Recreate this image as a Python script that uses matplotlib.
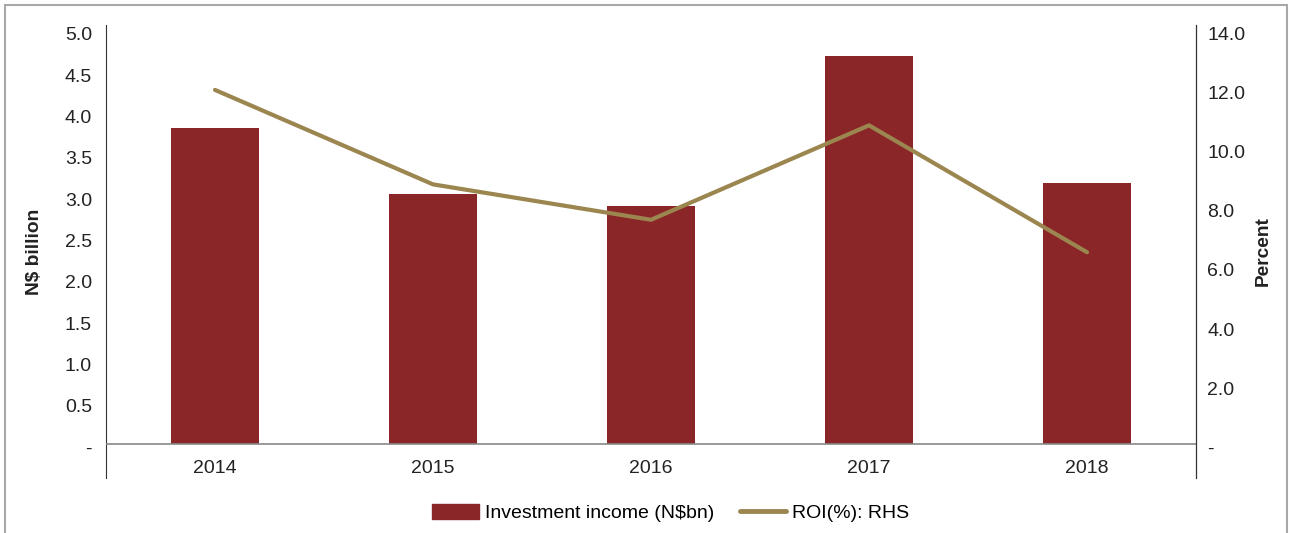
import matplotlib.pyplot as plt
from matplotlib.patches import Rectangle
from matplotlib.lines import Line2D
from matplotlib.transforms import ScaledTranslation

plt.rcParams['font.family'] = ['Liberation Sans', 'DejaVu Sans']

years = ["2014", "2015", "2016", "2017", "2018"]
investment_income = [3.82, 3.03, 2.88, 4.70, 3.16]   # N$ billion
roi = [12.0, 8.8, 7.6, 10.8, 6.5]                    # percent

bar_color = "#8a2528"
line_color = "#9c8650"
text_color = "#222222"
fs = 14

fig = plt.figure(figsize=(12.9, 5.33), dpi=100)
ax = fig.add_axes([106 / 1290, 1 - 478 / 533, 1090 / 1290, 453 / 533])
x = range(len(years))

ax.bar(x, investment_income, width=0.4, color=bar_color, zorder=2)
ax.axhline(0, color="#888888", lw=1.2, zorder=3)
ax.set_xlim(-0.5, 4.5)
ax.set_ylim(-0.41, 5.07)
ax.set_yticks([i * 0.5 for i in range(11)])
ax.set_yticklabels(["-"] + [f"{i * 0.5:.1f}" for i in range(1, 11)])
ax.set_xticks(list(x))
ax.set_xticklabels(years)
ax.tick_params(axis="both", length=0, labelsize=fs, colors=text_color)
ax.tick_params(axis="y", pad=10)
ax.tick_params(axis="x", pad=-13)
ax.set_ylabel("N$ billion", fontsize=13.8, fontweight="bold", color=text_color, labelpad=16)
for side in ["top", "bottom"]:
    ax.spines[side].set_visible(False)
ax.spines["left"].set_color("#333333")

ax2 = ax.twinx()
ax2.plot(list(x), roi, color=line_color, lw=3, solid_capstyle="round", zorder=4)
ax2.set_ylim(-1.15, 14.2)
ax2.set_yticks([i * 2.0 for i in range(8)])
ax2.set_yticklabels(["-"] + [f"{i * 2.0:.1f}" for i in range(1, 8)])
ax2.tick_params(axis="y", length=0, labelsize=fs, colors=text_color, pad=8)
ax2.set_ylabel("Percent", fontsize=13.8, fontweight="bold", color=text_color, labelpad=7)
for side in ["top", "bottom", "left"]:
    ax2.spines[side].set_visible(False)
ax2.spines["right"].set_color("#333333")

# nudge the value labels slightly below their gridline positions
shift = ScaledTranslation(0, -3 / 100, fig.dpi_scale_trans)
for lbl in ax.get_yticklabels() + ax2.get_yticklabels():
    lbl.set_transform(lbl.get_transform() + shift)

handles = [
    Rectangle((0, 0), 1, 1, color=bar_color),
    Line2D([0], [0], color=line_color, lw=3.5, solid_capstyle="round"),
]
fig.legend(handles, ["Investment income (N$bn)", "ROI(%): RHS"],
           loc="center", bbox_to_anchor=(0.52, 1 - 513 / 533), ncol=2,
           frameon=False, fontsize=fs, handlelength=2.4, handleheight=0.85,
           columnspacing=1.3, handletextpad=0.3)

# thin gray frame around the whole chart
fig.patches.append(Rectangle((5 / 1290, -0.1), 1282 / 1290, 1.1 - 5 / 533,
                             transform=fig.transFigure, fill=False,
                             edgecolor="#a8a8a8", lw=1.5))

fig.savefig("out.png", dpi=100)
